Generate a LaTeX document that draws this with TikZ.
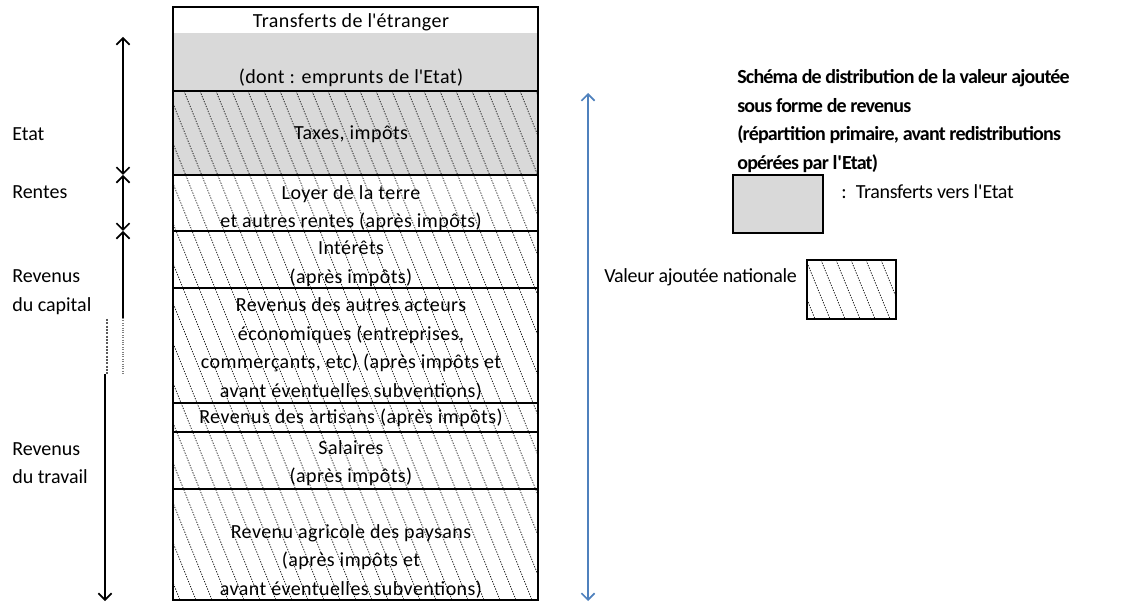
\documentclass[tikz,border=0pt]{standalone}
\usepackage{fontspec}
\setmainfont{Carlito}
\newfontfamily\casefont{Carlito}[LetterSpace=2.2]
\newfontfamily\titrefont{Carlito}[LetterSpace=-4]
\newfontfamily\legendefont{Carlito}[LetterSpace=-1.6]
\usetikzlibrary{arrows.meta}

\definecolor{grisetat}{RGB}{217,217,217}
\definecolor{bleuva}{RGB}{79,129,189}

\begin{document}
\begin{tikzpicture}[
            x = 0.75pt,
            y = -0.75pt,
            > = {Straight Barb[length = 5pt, width = 10pt]},
            case/.style = {
                align = center,
                font = \fontsize{15}{21.4}\selectfont\casefont,
                inner sep = 0pt
            },
            etiquette/.style = {
                align = left,
                anchor = west,
                font = \fontsize{15}{21.4}\selectfont,
                inner sep = 0pt
            },
            legende/.style = {
                etiquette,
                font = \fontsize{15}{21.4}\selectfont\legendefont
            },
            titre/.style = {
                etiquette,
                font = \fontsize{15}{21.4}\selectfont\titrefont\bfseries
            },
            bord/.style = {line width = 2pt},
            hachure/.style = {dash pattern = on 1pt off 1pt, line width = 0.5pt},
            fleche/.style = {line width = 1.2pt}
            ]
            \useasboundingbox (0,0) rectangle (1147,602);

            % fonds gris
            \fill[grisetat] (173,33) rectangle (538,175);
            \fill[grisetat] (733,175) rectangle (823,233);

            % hachures
            \begin{scope}
                \clip (173,91) rectangle (538,600);
                \foreach \x in {-40,-24,...,540}
                    \draw[hachure] (\x,91) -- ++(204,509);
            \end{scope}
            \begin{scope}
                \clip (807,260) rectangle (896,319);
                \foreach \x in {776,791,...,900}
                    \draw[hachure] (\x,260) -- ++(24,59);
            \end{scope}

            % cadres
            \draw[bord] (173,7) rectangle (538,600);
            \foreach \y in {91,175,231,288,403,432,489}
                \draw[bord] (173,\y) -- (538,\y);
            \draw[bord] (733,175) rectangle (823,233);
            \draw[bord] (807,260) rectangle (896,319);

            \node[case] (etranger) at (351,22) {Transferts de l\textquotesingle étranger};
            \node[case] (emprunts) at (351,78) {(dont : emprunts de l\textquotesingle Etat)};
            \node[case] (taxes) at (351,134) {Taxes, impôts};
            \node[case] (loyer) at (351,208) {Loyer de la terre\\et autres rentes (après impôts)};
            \node[case] (interets) at (351,264) {Intérêts\\(après impôts)};
            \node[case] (autres) at (351,349) {Revenus des autres acteurs\\économiques (entreprises,\\commerçants, etc) (après impôts et\\avant éventuelles subventions)};
            \node[case] (artisans) at (351,418) {Revenus des artisans (après impôts)};
            \node[case] (salaires) at (351,463) {Salaires\\(après impôts)};
            \node[case] (paysans) at (351,561) {Revenu agricole des paysans\\(après impôts et\\avant éventuelles subventions)};

            \node[etiquette] (etat) at (12,134) {Etat};
            \node[etiquette] (rentes) at (12,192) {Rentes};
            \node[etiquette] (capital) at (12,292) {Revenus\\du capital};
            \node[etiquette] (travail) at (12,463) {Revenus\\du travail};

            \node[titre] (schema) at (737,121) {Schéma de distribution de la valeur ajoutée\\sous forme de revenus\\(répartition primaire, avant redistributions\\opérées par l\textquotesingle Etat)};
            \node[legende] (vers) at (841,192) {:\hspace{7pt}Transferts vers l\textquotesingle Etat};
            \node[legende] (valeur) at (604,277) {Valeur ajoutée nationale};

            % fleches
            \coordinate (etat haut) at (123,37);
            \coordinate (etat bas) at (123,175);
            \coordinate (rentes bas) at (123,231);
            \coordinate (capital bas) at (123,318);
            \coordinate (capital fin) at (123,375);
            \coordinate (gris haut) at (107,319);
            \coordinate (gris bas) at (107,375);
            \coordinate (travail haut) at (105,374);
            \coordinate (travail bas) at (105,601);
            \coordinate (va haut) at (588,93);
            \coordinate (va bas) at (588,601);

            \draw[fleche, <->] (etat haut) -- (etat bas);
            \draw[fleche, <->] (etat bas) -- (rentes bas);
            \draw[fleche, <-] (rentes bas) -- (capital bas);
            \draw[gray, densely dotted, line width = 0.8pt] (capital bas) -- (capital fin);
            \draw[gray!70!black, densely dotted, line width = 1.5pt] (gris haut) -- (gris bas);
            \draw[fleche, ->] (travail haut) -- (travail bas);
            \draw[fleche, <->, bleuva] (va haut) -- (va bas);
        \end{tikzpicture}
\end{document}
